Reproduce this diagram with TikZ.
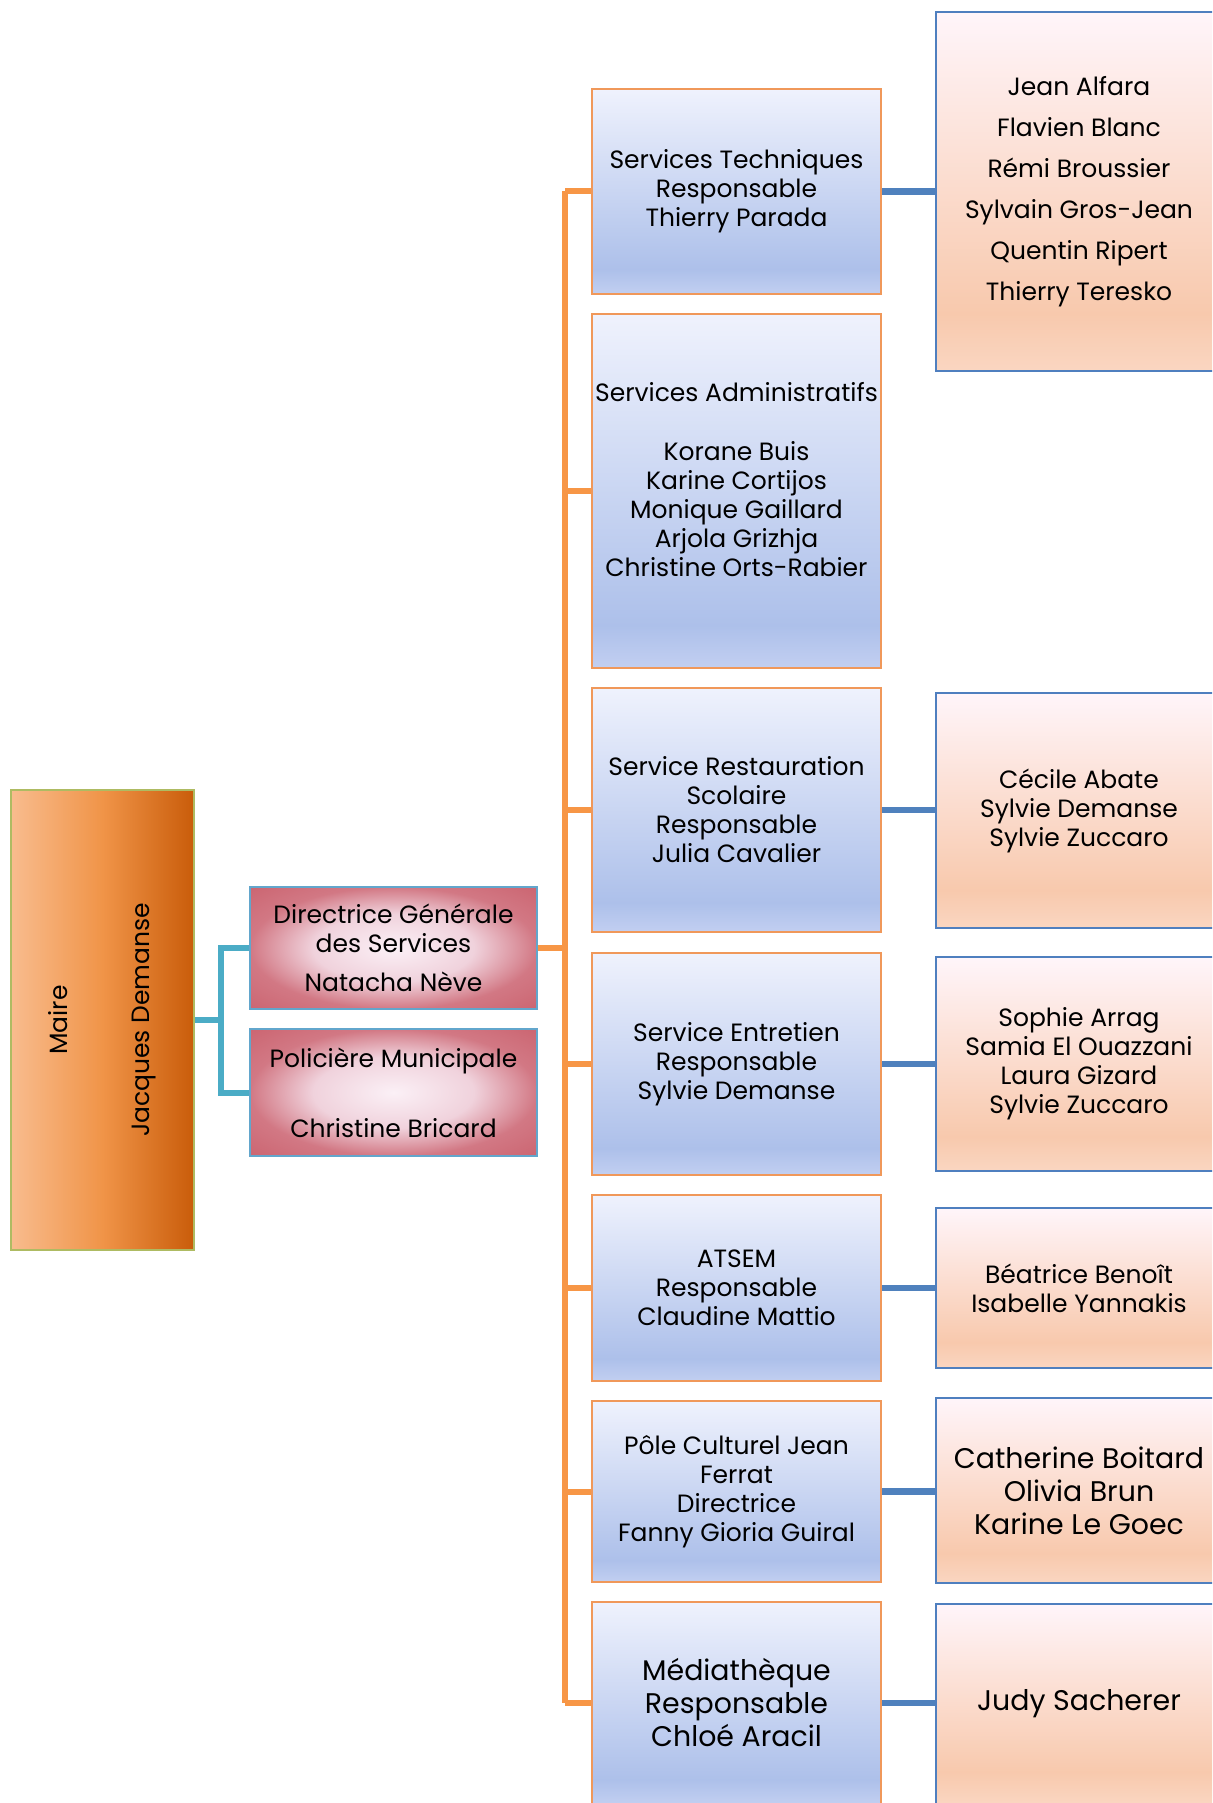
\documentclass[tikz,border=0pt]{standalone}
\usepackage{fontspec}
\setmainfont{Poppins}
\usetikzlibrary{calc}
\definecolor{orangeL}{HTML}{F79646}
\definecolor{cyanL}{HTML}{4BACC6}
\definecolor{blueL}{HTML}{4F81BD}
\definecolor{midBorder}{HTML}{F0985A}
\definecolor{rBorder}{HTML}{4F7FBF}
\definecolor{pBorder}{HTML}{62A6CC}
\definecolor{mBorder}{HTML}{AEBB62}
\definecolor{mB}{HTML}{C2CFF1}
\definecolor{mM}{HTML}{ADC0EA}
\definecolor{mT}{HTML}{EFF2FD}
\definecolor{rB}{HTML}{FAD6C1}
\definecolor{rM}{HTML}{F8C9AD}
\definecolor{rT}{HTML}{FFF5FA}
\definecolor{pC}{HTML}{FBF0F6}
\definecolor{pC2}{HTML}{F0D2DC}
\definecolor{pE}{HTML}{D27884}
\definecolor{pE2}{HTML}{C24B57}
\definecolor{oL}{HTML}{F8BC8E}
\definecolor{oM}{HTML}{F09448}
\definecolor{oR}{HTML}{C95C0A}
\pgfdeclareverticalshading{midshade}{100bp}{color(0bp)=(mB); color(25bp)=(mB); color(31bp)=(mM); color(75bp)=(mT); color(100bp)=(mT)}
\pgfdeclareverticalshading{rshade}{100bp}{color(0bp)=(rB); color(25bp)=(rB); color(33bp)=(rM); color(75bp)=(rT); color(100bp)=(rT)}
\pgfdeclareradialshading{redshade}{\pgfpoint{0bp}{0bp}}{color(0bp)=(pC); color(14bp)=(pC2); color(25bp)=(pE); color(50bp)=(pE2)}
\pgfdeclarehorizontalshading{maireshade}{100bp}{color(0bp)=(oL); color(25bp)=(oL); color(50bp)=(oM); color(75bp)=(oR); color(100bp)=(oR)}
\tikzset{
  x=0.5pt, y=-0.5pt,
  base/.style={font=\fontsize{12.5}{14.5}\selectfont, align=center, text=black, inner sep=0pt, rectangle},
  midbox/.style={base, shade, shading=midshade, draw=midBorder, line width=1.2pt, minimum width=144.5pt},
  rbox/.style={base, shade, shading=rshade, draw=rBorder, line width=1.4pt, minimum width=143pt},
  pbox/.style={base, shade, shading=redshade, draw=pBorder, line width=1.1pt, minimum width=143.5pt},
  mairebox/.style={base, shade, shading=maireshade, draw=mBorder, line width=1.1pt},
  bigtext/.style={font=\fontsize{14.2}{16.5}\selectfont},
  listtext/.style={font=\fontsize{12.5}{20.5}\selectfont},
  orangeline/.style={draw=orangeL, line width=3pt},
  cyanline/.style={draw=cyanL, line width=3pt},
  blueline/.style={draw=blueL, line width=3.4pt},
}
\begin{document}
\begin{tikzpicture}
\clip (0,0) rectangle (1212,1803);
% connector points
\coordinate (bt) at (565,191.5);
\coordinate (bb) at (565,1703);
\coordinate (mj) at (221,1020);
% Maire
\node[mairebox, minimum width=230pt, minimum height=91.5pt, rotate=90] (maire) at (102.5,1020) {Maire\\[26.5pt]Jacques Demanse};
% second level
\node[pbox, minimum height=61pt] (dgs) at (393.5,948) {Directrice Générale\\des Services\\[5pt]Natacha Nève};
\node[pbox, minimum height=63.5pt] (pol) at (393.5,1092.5) {Policière Municipale\\[20.5pt]Christine Bricard};
% middle column
\node[midbox, minimum height=102.5pt] (st) at (736.5,191.5) {Services Techniques\\Responsable\\Thierry Parada};
\node[midbox, minimum height=177pt] (sa) at (736.5,491) {Services Administratifs\\[15pt]Korane Buis\\Karine Cortijos\\Monique Gaillard\\Arjola Grizhja\\Christine Orts-Rabier\\[-2.5pt]\mbox{}};
\node[midbox, minimum height=122pt] (sr) at (736.5,810) {Service Restauration\\Scolaire\\Responsable\\Julia Cavalier};
\node[midbox, minimum height=111pt] (se) at (736.5,1064) {Service Entretien\\Responsable\\Sylvie Demanse};
\node[midbox, minimum height=93pt] (at) at (736.5,1288) {ATSEM\\Responsable\\Claudine Mattio};
\node[midbox, minimum height=90.5pt] (pc) at (736.5,1491.5) {Pôle Culturel Jean\\Ferrat\\Directrice\\Fanny Gioria Guiral};
\node[midbox, bigtext, minimum height=101pt] (md) at (736.5,1703) {Médiathèque\\Responsable\\Chloé Aracil};
% right column
\node[rbox, listtext, minimum height=179.5pt] (str) at (1079,191.5) {Jean Alfara\\Flavien Blanc\\Rémi Broussier\\Sylvain Gros-Jean\\Quentin Ripert\\Thierry Teresko};
\node[rbox, minimum height=117.5pt] (srr) at (1079,810.5) {Cécile Abate\\Sylvie Demanse\\Sylvie Zuccaro};
\node[rbox, minimum height=107pt] (ser) at (1079,1064) {Sophie Arrag\\Samia El Ouazzani\\Laura Gizard\\Sylvie Zuccaro};
\node[rbox, minimum height=80pt] (atr) at (1079,1288) {Béatrice Benoît\\Isabelle Yannakis};
\node[rbox, bigtext, minimum height=92.5pt] (pcr) at (1079,1490.5) {Catherine Boitard\\Olivia Brun\\Karine Le Goec};
\node[rbox, bigtext, minimum height=100pt] (mdr) at (1079,1704) {Judy Sacherer};
% Maire connectors
\draw[cyanline] (maire.south) -- (maire.south -| mj);
\draw[cyanline] (dgs.west) -- (dgs.west -| mj) -- (pol.west -| mj) -- (pol.west);
% bus
\draw[orangeline] (bt) -- (bb);
\draw[orangeline] (dgs.east) -- (dgs.east -| bt);
\foreach \n in {st,sa,sr,se,at,pc,md}{
  \draw[orangeline] (\n.west) -- (\n.west -| bt);
}
% blue connectors
\draw[blueline] (st.east) -- (st.east -| str.west);
\draw[blueline] (sr.east) -- (sr.east -| srr.west);
\draw[blueline] (se.east) -- (se.east -| ser.west);
\draw[blueline] (at.east) -- (at.east -| atr.west);
\draw[blueline] (pc.east) -- (pc.east -| pcr.west);
\draw[blueline] (md.east) -- (md.east -| mdr.west);
\end{tikzpicture}
\end{document}
